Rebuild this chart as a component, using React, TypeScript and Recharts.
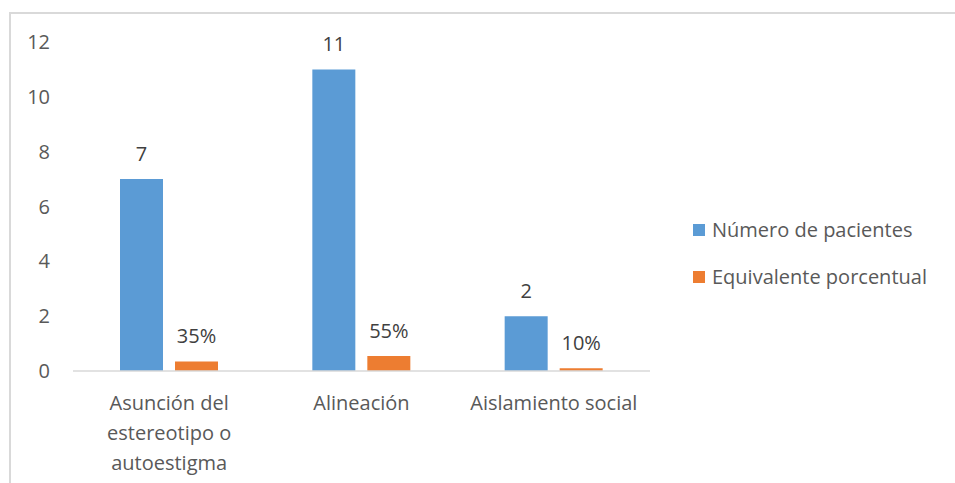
import { BarChart, Bar, XAxis, YAxis, LabelList } from "recharts";

const categories = ["Asunción del estereotipo o autoestigma", "Alineación", "Aislamiento social"];
const pacientes = [7, 11, 2];
const porcentual = [0.35, 0.55, 0.1];
const yTicks = [0, 2, 4, 6, 8, 10, 12];

const BLUE = "#5B9BD5";
const ORANGE = "#ED7D31";
const TEXT = "#595959";
const LABEL = "#404040";
const FONT = "'Open Sans', sans-serif";
const FS = 20;

const data = categories.map((name, i) => ({
  name,
  pacientes: pacientes[i],
  porcentual: porcentual[i],
}));

// only long labels get broken into lines
const wrap = (text: string, max: number) => {
  if (text.length <= 20) return [text];
  const words = text.split(" ");
  const lines: string[] = [];
  let cur = "";
  words.forEach((w) => {
    const next = cur ? cur + " " + w : w;
    if (next.length > max && cur) {
      lines.push(cur);
      cur = w;
    } else {
      cur = next;
    }
  });
  if (cur) lines.push(cur);
  return lines;
};

const CategoryTick = ({ x, y, payload }: any) => {
  const lines = wrap(payload.value, 14);
  return (
    <text x={x} y={y} textAnchor="middle" fill={TEXT} fontSize={FS} fontFamily={FONT}>
      {lines.map((l, i) => (
        <tspan key={i} x={x} dy={i === 0 ? 31 : 30}>
          {l}
        </tspan>
      ))}
    </text>
  );
};

const legendItems = [
  { label: "Número de pacientes", color: BLUE },
  { label: "Equivalente porcentual", color: ORANGE },
];

export default function App() {
  return (
    <div style={{ position: "absolute", left: 0, top: 0, width: 955, height: 483, background: "#fff" }}>
      <div
        style={{
          position: "absolute",
          left: 9,
          top: 12,
          right: 0,
          bottom: 0,
          borderTop: "2px solid #d9d9d9",
          borderLeft: "2px solid #d9d9d9",
        }}
      />
      <div style={{ position: "absolute", left: 0, top: 0 }}>
        <BarChart
          width={955}
          height={483}
          data={data}
          margin={{ top: 42, right: 305, left: 0, bottom: 0 }}
          barSize={43}
          barGap={12}
        >
          <XAxis
            dataKey="name"
            tick={<CategoryTick />}
            tickLine={false}
            axisLine={{ stroke: "#d9d9d9", strokeWidth: 1.5 }}
            interval={0}
            height={112}
          />
          <YAxis
            width={73}
            domain={[0, 12]}
            ticks={yTicks}
            tickSize={0}
            tickMargin={23}
            axisLine={false}
            tickLine={false}
            tick={{ fill: TEXT, fontSize: FS, fontFamily: FONT }}
          />
          <Bar dataKey="pacientes" fill={BLUE} isAnimationActive={false}>
            <LabelList dataKey="pacientes" position="top" offset={18} fill={LABEL} fontSize={FS} fontFamily={FONT} />
          </Bar>
          <Bar dataKey="porcentual" fill={ORANGE} isAnimationActive={false}>
            <LabelList
              dataKey="porcentual"
              position="top"
              offset={18}
              fill={LABEL}
              fontSize={FS}
              fontFamily={FONT}
              formatter={(v: any) => `${Math.round(Number(v) * 100)}%`}
            />
          </Bar>
        </BarChart>
      </div>
      <div style={{ position: "absolute", left: 693, top: 206, fontFamily: FONT, fontSize: FS, color: TEXT }}>
        {legendItems.map((item) => (
          <div key={item.label} style={{ display: "flex", alignItems: "center", height: 47, whiteSpace: "nowrap" }}>
            <span style={{ width: 12, height: 12, background: item.color, marginRight: 7, display: "inline-block" }} />
            {item.label}
          </div>
        ))}
      </div>
    </div>
  );
}
